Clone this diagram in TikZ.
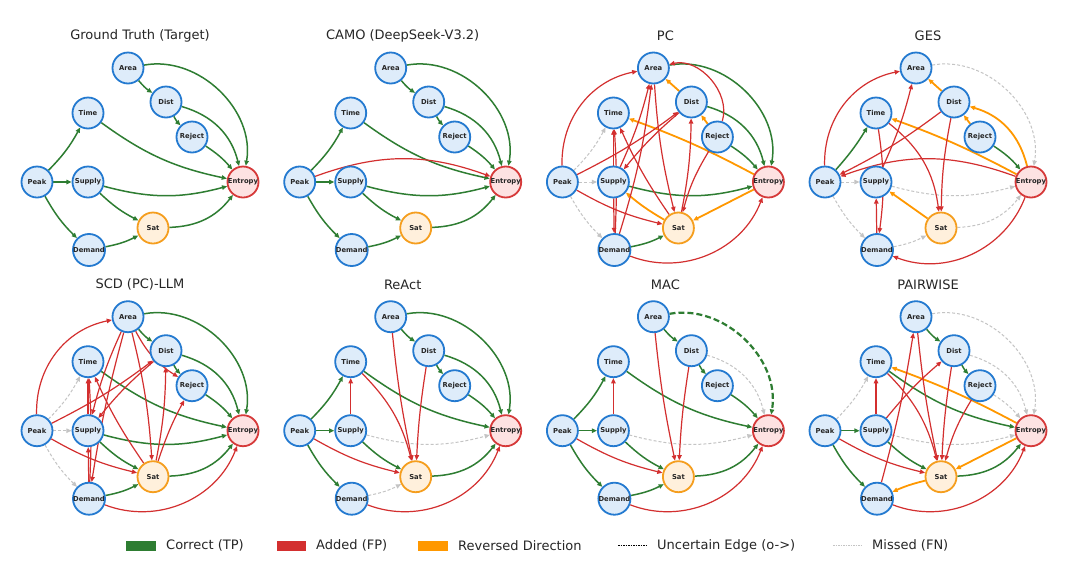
\documentclass[tikz,border=0pt]{standalone}
\usepackage{fontspec}
\setmainfont{DejaVu Sans}
\usetikzlibrary{arrows.meta,positioning}
\definecolor{tpc}{RGB}{46,125,50}
\definecolor{fpc}{RGB}{211,47,47}
\definecolor{revc}{RGB}{255,152,0}
\definecolor{fnc}{RGB}{196,196,196}
\definecolor{varb}{RGB}{36,122,208}
\definecolor{varf}{RGB}{222,236,250}
\definecolor{entb}{RGB}{214,58,58}
\definecolor{entf}{RGB}{253,226,226}
\definecolor{satb}{RGB}{245,158,30}
\definecolor{satf}{RGB}{255,240,220}
\pgfdeclarelayer{edges}
\pgfsetlayers{edges,main}
\tikzset{font=\small}
\tikzset{
  var/.style={circle, draw=varb, fill=varf, line width=1.8pt, minimum size=31pt,
    inner sep=0pt, font=\fontsize{6.8}{7}\selectfont\bfseries, text=black!85},
  outvar/.style={var, draw=entb, fill=entf},
  medvar/.style={var, draw=satb, fill=satf},
  title/.style={font=\fontsize{13}{15}\selectfont, text=black!85},
  link/.style={-{Triangle[length=5.2pt,width=4.4pt]}, line width=1.5pt},
  tp/.style={link, draw=tpc},
  fp/.style={link, draw=fpc, line width=1.2pt},
  rev/.style={link, draw=revc, line width=1.8pt},
  fn/.style={link, draw=fnc, line width=1pt, dash pattern=on 3pt off 2pt},
  unc/.style={link, draw=tpc, line width=2.2pt, dash pattern=on 6pt off 3pt},
  legtext/.style={font=\fontsize{13}{15}\selectfont, text=black!85, anchor=west, inner sep=0pt}
}

\begin{document}
\begin{tikzpicture}[x=1pt,y=1pt]
\useasboundingbox (0,0) rectangle (1080,-574);

% panels: prefix / shift / title
\foreach \p/\dx/\dy/\t in {gt/0/0/{Ground Truth (Target)}, camo/262.7/0/{CAMO (DeepSeek-V3.2)},
  pc/525.4/0/PC, ges/788/0/GES, scd/0/-248.7/{SCD (PC)-LLM}, react/262.7/-248.7/ReAct,
  mac/525.4/-248.7/MAC, pw/788/-248.7/PAIRWISE}{
\begin{scope}[shift={(\dx,\dy)}]
\node[title] (\p Title) at (140,-36) {\t};
\node[var] (\p Area) at (128,-68) {Area};
\node[var] (\p Dist) at (166,-102) {Dist};
\node[var] (\p Time) at (88,-113) {Time};
\node[var] (\p Reject) at (192,-137) {Reject};
\node[var] (\p Peak) at (37,-182) {Peak};
\node[var] (\p Supply) at (88,-182) {Supply};
\node[outvar] (\p Entropy) at (243,-182) {Entropy};
\node[medvar] (\p Sat) at (153,-228) {Sat};
\node[var] (\p Demand) at (89,-250) {Demand};
\end{scope}
}

\begin{pgfonlayer}{edges}
\fill[white] (0,0) rectangle (1080,-574);
% ground truth
\foreach \a/\b/\s/\k in {Area/Dist/tp/-8, Area/Entropy/tp/55, Dist/Reject/tp/-8, Dist/Entropy/tp/30,
  Reject/Entropy/tp/8, Time/Entropy/tp/-12, Peak/Time/tp/-8, Peak/Supply/tp/0, Peak/Demand/tp/-8,
  Supply/Entropy/tp/-15, Supply/Sat/tp/-8, Demand/Sat/tp/-8, Sat/Entropy/tp/-25}
  \draw[\s] (gt\a) to[bend left=\k] (gt\b);
% CAMO
\foreach \a/\b/\s/\k in {Area/Dist/tp/-8, Area/Entropy/tp/55, Dist/Reject/tp/-8, Dist/Entropy/tp/30,
  Reject/Entropy/tp/8, Time/Entropy/tp/-12, Peak/Time/tp/-8, Peak/Supply/tp/0, Peak/Demand/tp/-8,
  Supply/Entropy/tp/-15, Supply/Sat/tp/-8, Demand/Sat/tp/-8, Sat/Entropy/tp/-25, Peak/Entropy/fp/20}
  \draw[\s] (camo\a) to[bend left=\k] (camo\b);
% PC
\foreach \a/\b/\s/\k in {Area/Entropy/tp/55, Dist/Entropy/tp/30, Reject/Entropy/tp/8,
  Supply/Entropy/tp/-15, Demand/Sat/tp/-8,
  Dist/Area/rev/0, Reject/Dist/rev/0, Entropy/Time/rev/-4, Sat/Supply/rev/5, Entropy/Sat/rev/0,
  Peak/Area/fp/40, Peak/Dist/fp/-5, Peak/Sat/fp/-8, Supply/Area/fp/-5, Demand/Area/fp/-5,
  Area/Sat/fp/-5, Sat/Time/fp/5, Supply/Time/fp/0, Demand/Time/fp/-3, Supply/Demand/fp/0,
  Dist/Supply/fp/-5, Sat/Dist/fp/-5, Reject/Sat/fp/-8, Reject/Area/fp/-60, Demand/Entropy/fp/-45,
  Peak/Time/fn/-8, Peak/Supply/fn/0, Peak/Demand/fn/-8}
  \draw[\s] (pc\a) to[bend left=\k] (pc\b);
% GES
\foreach \a/\b/\s/\k in {Area/Entropy/fn/55, Peak/Supply/fn/0, Peak/Demand/fn/-8,
  Supply/Entropy/fn/-15, Sat/Entropy/fn/-25, Demand/Sat/fn/-8,
  Dist/Area/rev/0, Reject/Dist/rev/0, Entropy/Dist/rev/-30, Entropy/Time/rev/-4, Sat/Supply/rev/0,
  Peak/Time/tp/-5, Reject/Entropy/tp/8,
  Peak/Area/fp/40, Dist/Peak/fp/5, Entropy/Peak/fp/-20, Supply/Area/fp/-5, Time/Demand/fp/8,
  Demand/Supply/fp/0, Time/Sat/fp/22, Dist/Sat/fp/-5, Entropy/Demand/fp/45}
  \draw[\s] (ges\a) to[bend left=\k] (ges\b);
% SCD (PC)-LLM
\foreach \a/\b/\s/\k in {Area/Entropy/tp/55, Area/Dist/tp/-8, Dist/Reject/tp/-8, Dist/Entropy/tp/30,
  Reject/Entropy/tp/8, Time/Entropy/tp/-12, Supply/Entropy/tp/-15, Supply/Sat/tp/-8,
  Demand/Sat/tp/-8, Sat/Entropy/tp/-25,
  Peak/Time/fn/-8, Peak/Supply/fn/0, Peak/Demand/fn/-8,
  Peak/Area/fp/40, Peak/Dist/fp/-5, Peak/Sat/fp/-8, Area/Reject/fp/-15, Area/Supply/fp/-5,
  Area/Demand/fp/-3, Area/Sat/fp/5, Dist/Supply/fp/-5, Sat/Dist/fp/-5, Sat/Reject/fp/5,
  Sat/Time/fp/5, Demand/Time/fp/-3, Supply/Time/fp/0, Demand/Supply/fp/0, Demand/Entropy/fp/-45}
  \draw[\s] (scd\a) to[bend left=\k] (scd\b);
% ReAct
\foreach \a/\b/\s/\k in {Area/Dist/tp/-8, Area/Entropy/tp/55, Dist/Reject/tp/-8, Dist/Entropy/tp/30,
  Reject/Entropy/tp/8, Time/Entropy/tp/-12, Peak/Time/tp/-8, Peak/Supply/tp/0, Peak/Demand/tp/-8,
  Supply/Sat/tp/-8, Sat/Entropy/tp/-25, Supply/Entropy/fn/-15, Demand/Sat/fn/-8,
  Area/Sat/fp/-3, Dist/Sat/fp/-3, Time/Sat/fp/15, Supply/Time/fp/0, Peak/Sat/fp/-8,
  Demand/Entropy/fp/-45}
  \draw[\s] (react\a) to[bend left=\k] (react\b);
% MAC
\foreach \a/\b/\s/\k in {Area/Dist/tp/-8, Dist/Reject/tp/-8, Reject/Entropy/tp/8, Time/Entropy/tp/-12,
  Peak/Time/tp/-8, Peak/Supply/tp/0, Peak/Demand/tp/-8, Supply/Sat/tp/-8, Demand/Sat/tp/-8,
  Sat/Entropy/tp/-25, Area/Entropy/unc/55, Dist/Entropy/fn/30, Supply/Entropy/fn/-15,
  Area/Sat/fp/-3, Dist/Sat/fp/-3, Supply/Time/fp/0, Peak/Sat/fp/-8, Demand/Entropy/fp/-45}
  \draw[\s] (mac\a) to[bend left=\k] (mac\b);
% PAIRWISE
\foreach \a/\b/\s/\k in {Area/Dist/tp/-8, Dist/Reject/tp/-8, Time/Entropy/tp/-12, Peak/Supply/tp/0,
  Peak/Demand/tp/-8, Supply/Sat/tp/-8, Sat/Entropy/tp/-25,
  Area/Entropy/fn/55, Dist/Entropy/fn/30, Reject/Entropy/fn/8, Peak/Time/fn/-8, Supply/Entropy/fn/-15,
  Entropy/Time/rev/-4, Entropy/Sat/rev/0, Sat/Demand/rev/-5,
  Demand/Area/fp/-3, Area/Sat/fp/-3, Supply/Time/fp/0, Supply/Dist/fp/5, Time/Sat/fp/15,
  Dist/Sat/fp/-3, Reject/Sat/fp/-8, Peak/Sat/fp/-8, Demand/Entropy/fp/-45}
  \draw[\s] (pw\a) to[bend left=\k] (pw\b);
\end{pgfonlayer}

% legend
\fill[tpc] (126,-540.5) rectangle (156,-550.5);
\node[legtext] (legTP) at (166,-545.5) {Correct (TP)};
\fill[fpc] (277,-540.5) rectangle (306,-550.5);
\node[legtext] (legFP) at (316,-545.5) {Added (FP)};
\fill[revc] (418,-540.5) rectangle (448,-550.5);
\node[legtext] (legRev) at (458,-545.5) {Reversed Direction};
\draw[black, line width=0.6pt, dash pattern=on 1.5pt off 1pt] (618,-545.5) -- (647,-545.5);
\node[legtext] (legUnc) at (657,-545.5) {Uncertain Edge (o->)};
\draw[fnc, line width=0.6pt, dash pattern=on 1.5pt off 1pt] (833,-545.5) -- (862,-545.5);
\node[legtext] (legFN) at (872,-545.5) {Missed (FN)};
\end{tikzpicture}
\end{document}
